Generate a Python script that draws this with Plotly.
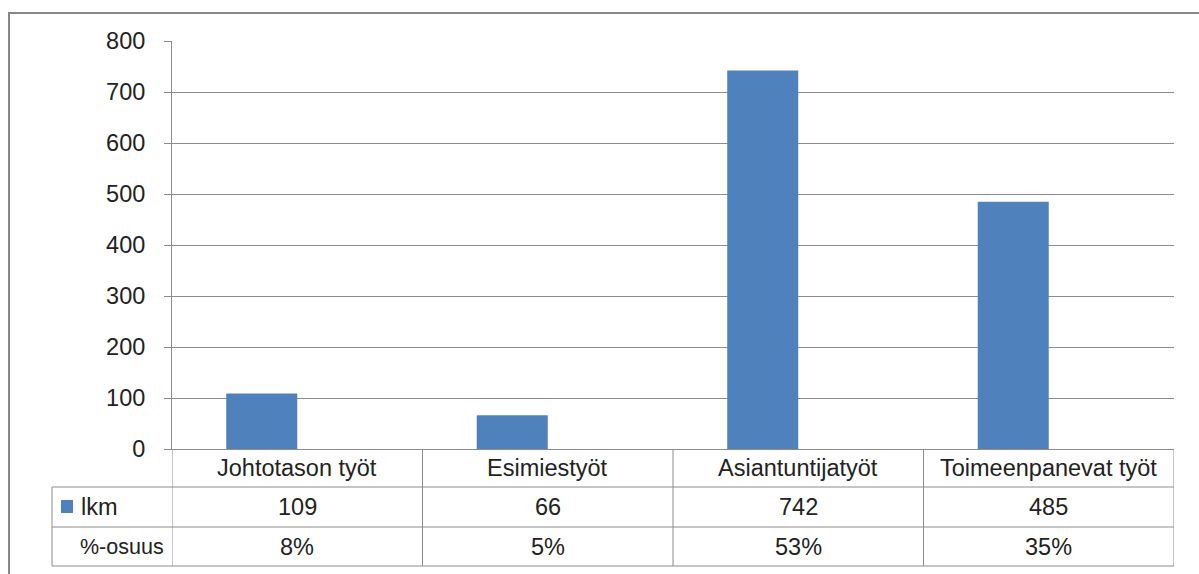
import plotly.graph_objects as go

categories = ["Johtotason työt", "Esimiestyöt", "Asiantuntijatyöt", "Toimeenpanevat työt"]
lkm = [109, 66, 742, 485]
osuus = [0.08, 0.05, 0.53, 0.35]
osuus_labels = ["8%", "5%", "53%", "35%"]
series_names = ["lkm", "%-osuus"]
y_ticks = [0, 100, 200, 300, 400, 500, 600, 700, 800]

W, H = 1199, 574
L, R, T, B = 172, 25, 41, 125
pw, ph = W - L - R, H - T - B

def px(x):
    return (x - L) / pw

def py(y):
    return (H - B - y) / ph

BLUE = "#4F81BD"
GRID = "#8C8C8C"
TXT = "#222222"
FONT = "Liberation Sans"
FS = 23.5

xs = list(range(len(categories)))

fig = go.Figure()
fig.add_trace(go.Bar(x=xs, y=lkm, name=series_names[0], marker=dict(color=BLUE, line=dict(width=0))))
fig.add_trace(go.Bar(x=xs, y=osuus, name=series_names[1], marker=dict(color="rgba(0,0,0,0)", line=dict(width=0))))

shapes = []
annotations = []
line = dict(color=GRID, width=1)

# outer chart border
shapes.append(dict(type="rect", xref="paper", yref="paper", x0=px(9), x1=px(1210), y0=py(590), y1=py(13),
                   line=dict(color="#878787", width=2), fillcolor="rgba(0,0,0,0)", layer="below"))

row_y = [449, 487, 527, 566]
# vertical column lines in table
for i in range(len(categories) + 1):
    shapes.append(dict(type="line", xref="x", yref="paper", x0=i - 0.5, x1=i - 0.5,
                       y0=py(row_y[0]), y1=py(row_y[3]), line=line))
# horizontal lines across data columns
for yy in row_y[1:]:
    shapes.append(dict(type="line", xref="paper", yref="paper", x0=px(52), x1=1,
                       y0=py(yy), y1=py(yy), line=line))
# left edge of label column
shapes.append(dict(type="line", xref="paper", yref="paper", x0=px(52), x1=px(52),
                   y0=py(row_y[1]), y1=py(row_y[3]), line=line))
# legend key
shapes.append(dict(type="rect", xref="paper", yref="paper", x0=px(61), x1=px(73),
                   y0=py(513), y1=py(500), line=dict(width=0), fillcolor=BLUE))

fnt = dict(family=FONT, size=FS, color=TXT)
fnt_lbl = dict(family=FONT, size=21.5, color=TXT)
for i, c in enumerate(categories):
    annotations.append(dict(x=i, y=py(468), xref="x", yref="paper", text=c, showarrow=False, font=fnt,
                            xanchor="center", yanchor="middle"))
    annotations.append(dict(x=i, y=py(507), xref="x", yref="paper", text=str(lkm[i]), showarrow=False, font=fnt,
                            xanchor="center", yanchor="middle"))
    annotations.append(dict(x=i, y=py(547), xref="x", yref="paper", text=osuus_labels[i], showarrow=False, font=fnt,
                            xanchor="center", yanchor="middle"))
annotations.append(dict(x=px(79), y=py(507), xref="paper", yref="paper", text=series_names[0], showarrow=False,
                        font=fnt, xanchor="left", yanchor="middle"))
annotations.append(dict(x=px(78), y=py(547), xref="paper", yref="paper", text=series_names[1], showarrow=False,
                        font=fnt_lbl, xanchor="left", yanchor="middle"))

fig.update_layout(
    width=W, height=H,
    margin=dict(l=L, r=R, t=T, b=B, pad=0),
    paper_bgcolor="white", plot_bgcolor="white",
    barmode="group", bargap=0.433, bargroupgap=0,
    showlegend=False,
    shapes=shapes, annotations=annotations,
    font=dict(family=FONT, size=FS, color=TXT),
)
fig.update_xaxes(range=[-0.5, len(categories) - 0.5], showticklabels=False, showgrid=False,
                 showline=True, linecolor=GRID, linewidth=1, zeroline=False, ticks="", fixedrange=True)
fig.update_yaxes(range=[0, 800], tickvals=y_ticks, ticktext=[str(v) for v in y_ticks],
                 showgrid=True, gridcolor=GRID, gridwidth=1, showline=True, linecolor=GRID, linewidth=1,
                 ticks="outside", ticklen=7, tickcolor=GRID, ticklabelstandoff=14, zeroline=False,
                 tickfont=dict(family=FONT, size=FS, color=TXT))

fig.write_html("out.html")
